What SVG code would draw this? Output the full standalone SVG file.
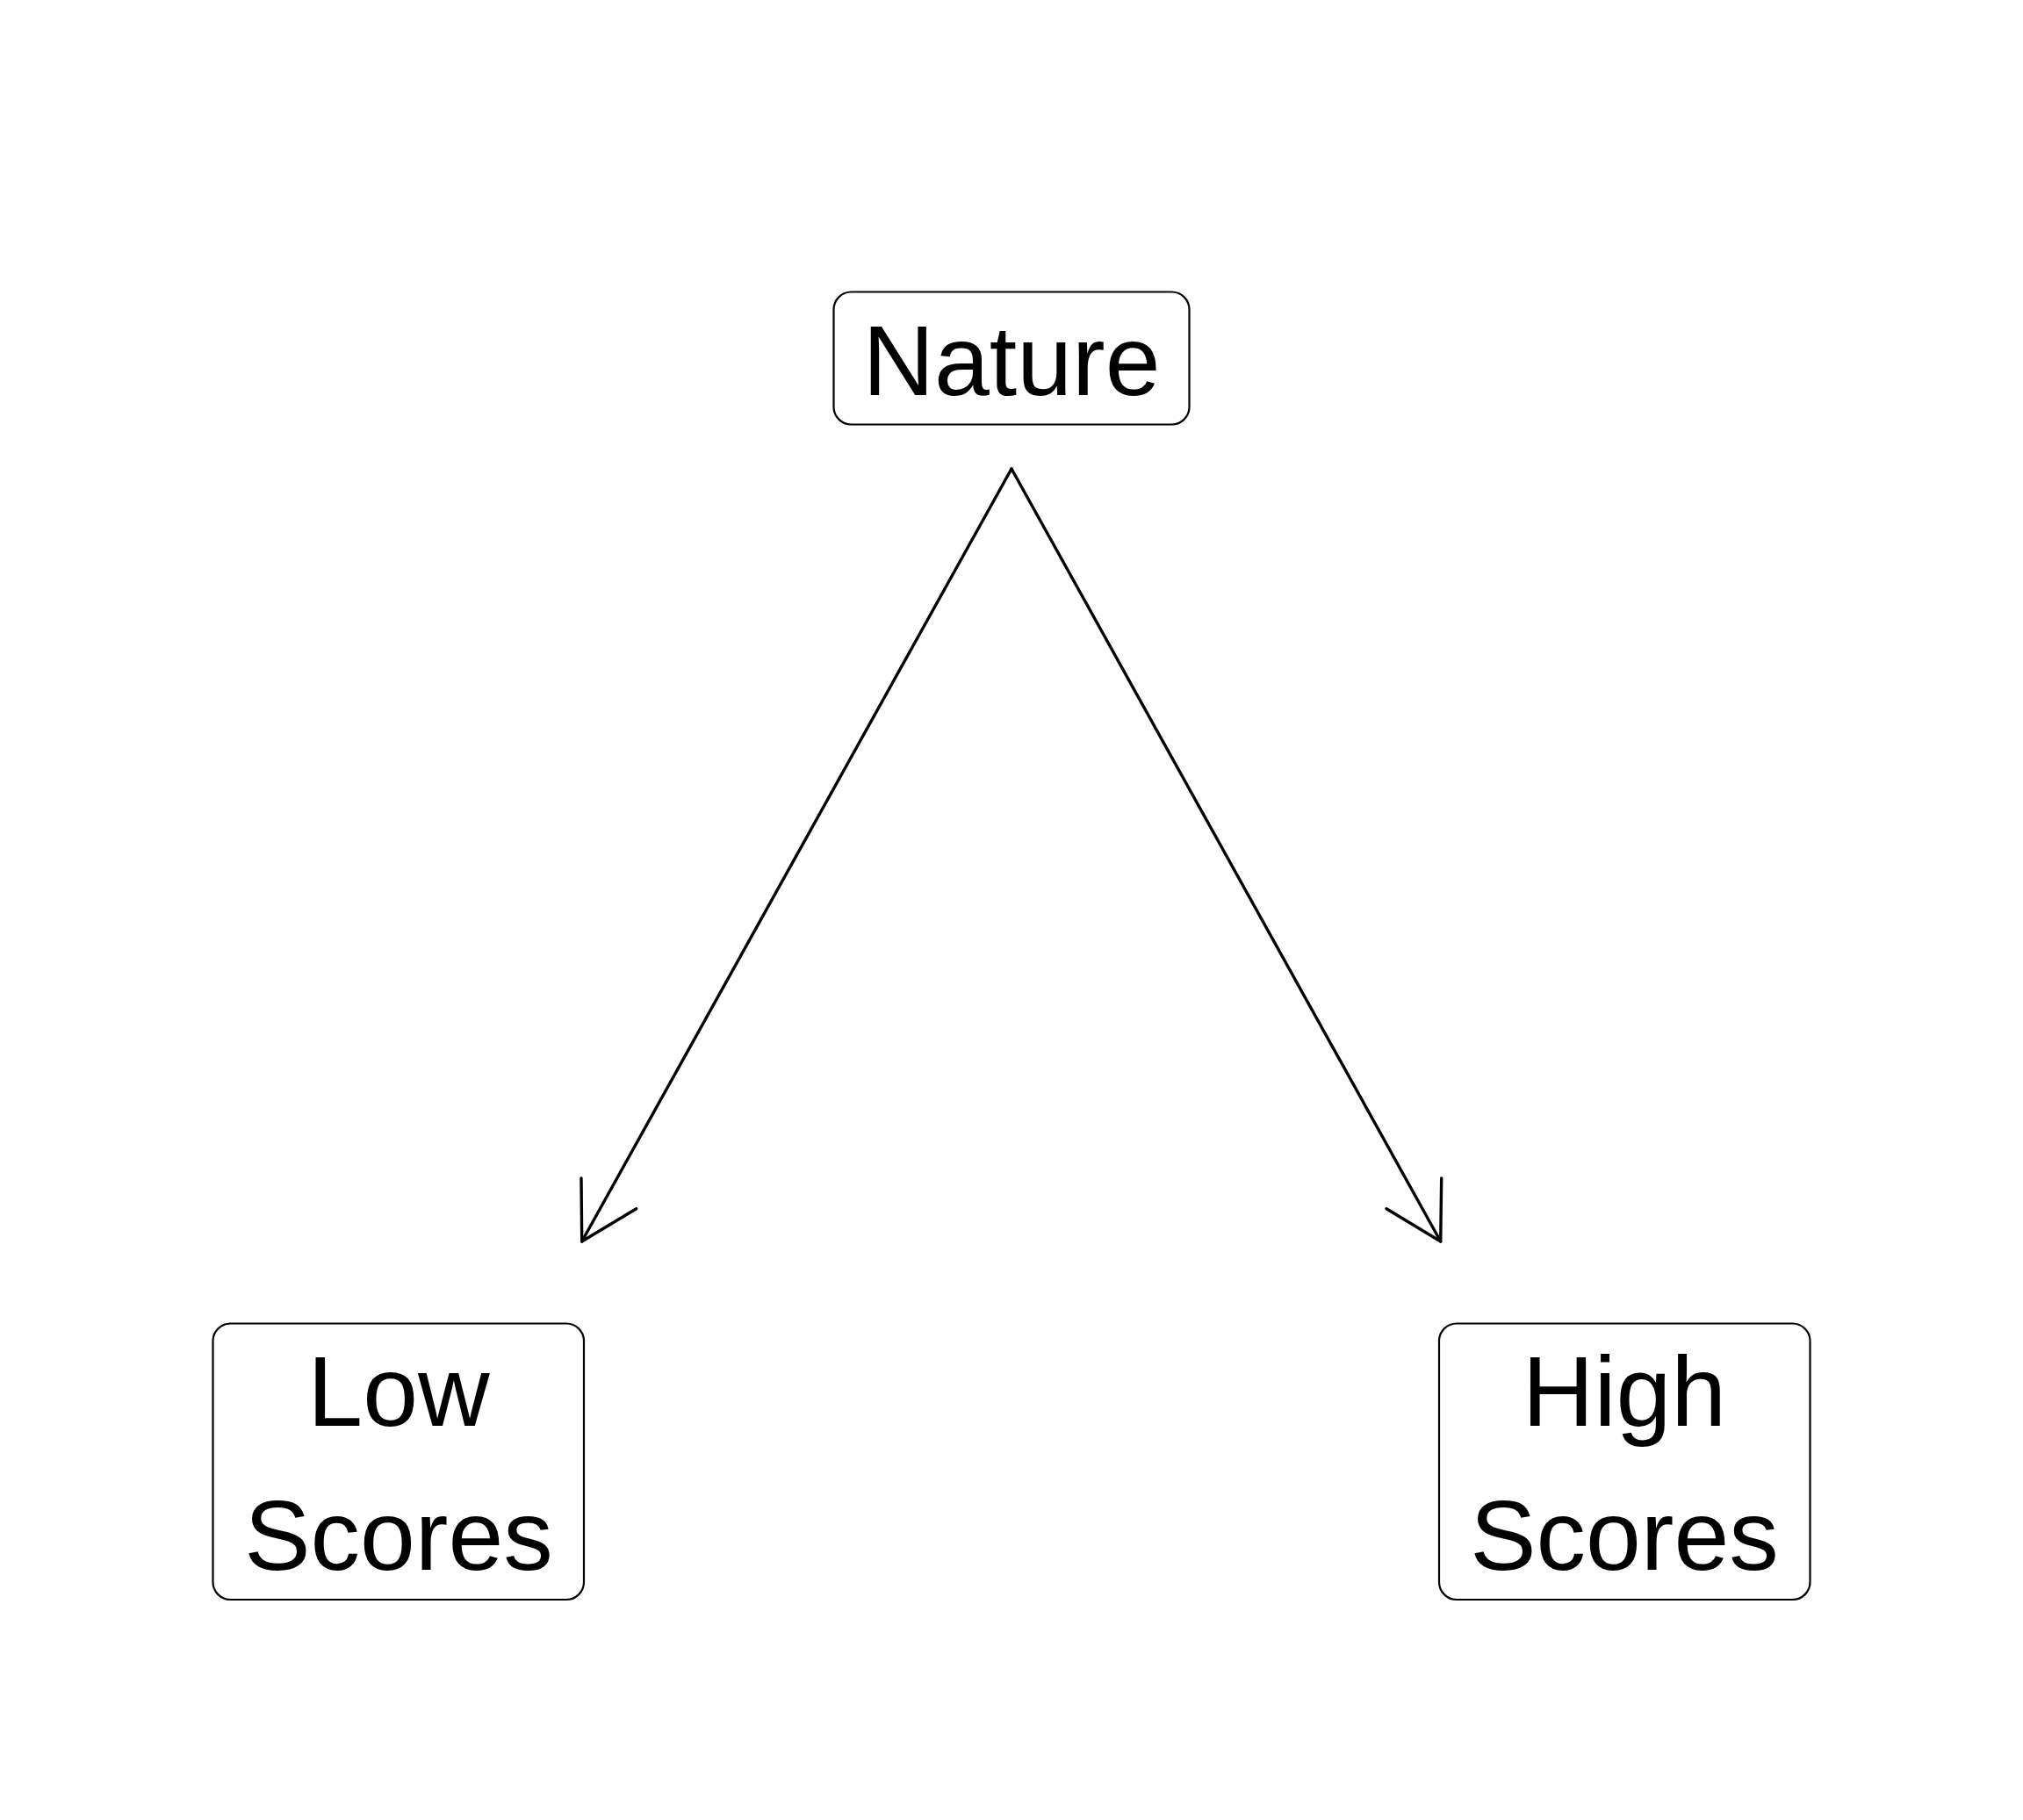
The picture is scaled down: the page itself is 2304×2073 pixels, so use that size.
<svg xmlns="http://www.w3.org/2000/svg" width="2304" height="2073" viewBox="0 0 2304 2073">
<style>
.box{fill:#fff;stroke:#000;stroke-width:2.2}
.lbl{font-family:"Liberation Sans",Arial,Helvetica,sans-serif;font-size:113px;fill:#000;text-anchor:middle}
.edge{fill:none;stroke:#000;stroke-width:3.4;stroke-linecap:round;stroke-linejoin:round}
</style>
<rect width="2304" height="2073" fill="#fff"/>
<g id="nature">
<rect class="box" x="949.5" y="332.5" width="405" height="151" rx="20" ry="20"/>
<text class="lbl" x="1152" y="450">Nature</text>
</g>
<g id="low-scores">
<rect class="box" x="242.5" y="1507.5" width="422.5" height="314.5" rx="20" ry="20"/>
<text class="lbl" x="454" y="1624">Low</text>
<text class="lbl" x="454" y="1788">Scores</text>
</g>
<g id="high-scores">
<rect class="box" x="1639" y="1507.5" width="422.5" height="314.5" rx="20" ry="20"/>
<text class="lbl" x="1850" y="1624">High</text>
<text class="lbl" x="1850" y="1788">Scores</text>
</g>
<g id="connectors">
<path class="edge" d="M1152,534 L662.7,1414"/>
<path class="edge" d="M662,1342 L662.7,1414 L724.7,1376.7"/>
<path class="edge" d="M1152,534 L1640.7,1414"/>
<path class="edge" d="M1641.7,1342 L1640.7,1414 L1579,1376.7"/>
</g>
</svg>
